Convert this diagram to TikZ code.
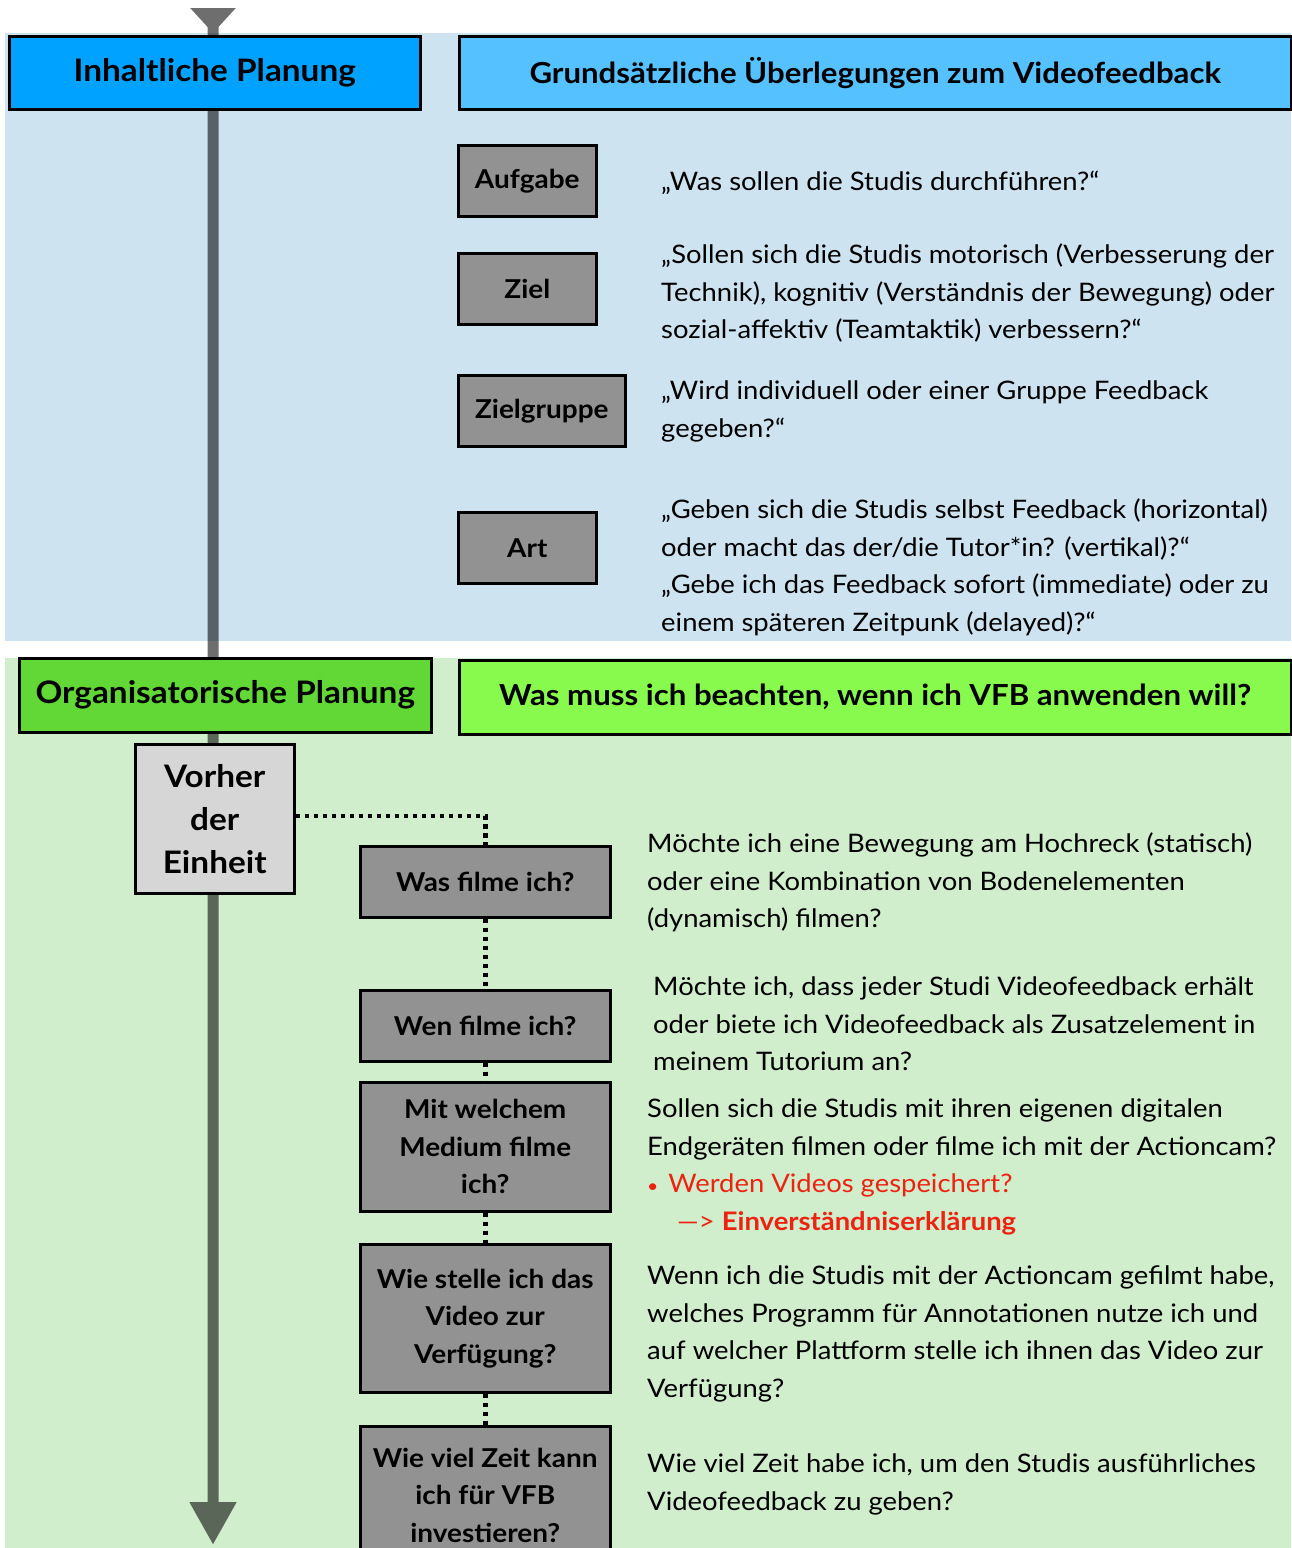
\documentclass[tikz,border=0pt]{standalone}
\usepackage{fontspec}
\setmainfont{Lato}[FakeStretch=1.075]
\usepackage{xcolor}
\definecolor{plan-blue}{RGB}{0,162,255}
\definecolor{plan-blue-light}{RGB}{86,193,255}
\definecolor{plan-blue-bg}{RGB}{205,227,240}
\definecolor{plan-green}{RGB}{97,216,54}
\definecolor{plan-green-light}{RGB}{136,250,78}
\definecolor{plan-green-bg}{RGB}{208,237,204}
\definecolor{box-gray}{RGB}{146,146,146}
\definecolor{box-gray-light}{RGB}{214,214,214}
\definecolor{vfb-red}{RGB}{238,34,17}
\usetikzlibrary{positioning,arrows.meta}
\tikzset{
  head/.style={
    draw=black,
    line width=2.5pt,
    anchor=north west,
    inner sep=0pt,
    font=\bfseries\fontsize{29}{35}\selectfont
  },
  phase/.style={
    head,
    font=\bfseries\fontsize{31}{37}\selectfont
  },
  topic/.style={
    draw=black,
    line width=2.5pt,
    fill=box-gray,
    anchor=north west,
    inner sep=0pt,
    minimum width=138pt,
    minimum height=71pt,
    font=\bfseries\fontsize{26}{37.5}\selectfont
  },
  question/.style={
    topic,
    minimum width=250pt,
    align=center
  },
  answer/.style={
    anchor=north west,
    inner sep=0pt,
    align=left,
    font=\fontsize{25.5}{37.5}\selectfont
  },
  dots/.style={
    line width=4.5pt,
    dash pattern=on 4.5pt off 4.5pt
  },
  timeline/.style={
    line width=11pt,
    draw=black,
    fill=black,
    {Triangle[reversed,width=44pt,length=25pt]}-{Triangle[width=44pt,length=43pt]}
  },
}

\begin{document}
\begin{tikzpicture}[x=1pt,y=-1pt]
  \useasboundingbox (0,0) rectangle (1291,1548);

  % backgrounds
  \fill[plan-blue-bg] (5,33) rectangle (1291,641);
  \fill[plan-green-bg] (5,658) rectangle (1291,1548);

  % time line
  \coordinate (start) at (213,8);
  \coordinate (end) at (213,1545);
  \begin{scope}[transparency group, opacity=0.57]
    \draw[timeline] (start) -- (end);
  \end{scope}

  % Inhaltliche Planung
  \node[phase, fill=plan-blue, minimum width=411pt, minimum height=73pt] (inhalt) at (8,35) {Inhaltliche Planung};
  \node[head, fill=plan-blue-light, minimum width=832pt, minimum height=73pt] (grund) at (458,35) {Grundsätzliche Überlegungen zum Videofeedback};

  \node[topic] (aufgabe) at (457,144) {Aufgabe};
  \node[topic] (ziel) at (457,252) {Ziel};
  \node[topic, minimum width=167pt] (zielgruppe) at (457,374) {Zielgruppe};
  \node[topic] (art) at (457,511) {Art};

  \node[answer] (aufgabe-text) at (661,171) {„Was sollen die Studis durchführen?“};
  \node[answer] (ziel-text) at (661,244) {„Sollen sich die Studis motorisch (Verbesserung der\\Technik), kognitiv (Verständnis der Bewegung) oder\\sozial-affektiv (Teamtaktik) verbessern?“};
  \node[answer] (zielgruppe-text) at (661,381) {„Wird individuell oder einer Gruppe Feedback\\gegeben?“};
  \node[answer] (art-text) at (661,499) {„Geben sich die Studis selbst Feedback (horizontal)\\oder macht das der/die Tutor*in? (vertikal)?“\\„Gebe ich das Feedback sofort (immediate) oder zu\\einem späteren Zeitpunk (delayed)?“};

  % Organisatorische Planung
  \node[phase, fill=plan-green, minimum width=412pt, minimum height=74pt] (orga) at (18,657) {Organisatorische Planung};
  \node[head, fill=plan-green-light, minimum width=832pt, minimum height=74pt] (beachten) at (458,659) {Was muss ich beachten, wenn ich VFB anwenden will?};

  \node[topic, fill=box-gray-light, minimum width=159pt, minimum height=149pt, align=center,
        font=\fontsize{31}{43}\selectfont\bfseries] (vorher) at (134,743) {Vorher\\der\\Einheit};

  \node[question] (was) at (359,845) {Was filme ich?};
  \node[question] (wen) at (359,989) {Wen filme ich?};
  \node[question, minimum height=129pt] (medium) at (359,1081) {Mit welchem\\Medium filme\\ich?};
  \node[question, minimum height=148pt] (stellen) at (359,1243) {Wie stelle ich das\\Video zur\\Verfügung?};
  \node[question, minimum height=138pt] (zeit) at (359,1425) {Wie viel Zeit kann\\ich für VFB\\investieren?};

  \draw[dots] ([yshift=3pt]vorher.east) -| (was.north);
  \draw[dots] (was) -- (wen);
  \draw[dots] (wen) -- (medium);
  \draw[dots] (medium) -- (stellen);
  \draw[dots] (stellen) -- (zeit);

  \node[answer] (was-text) at (647,833) {Möchte ich eine Bewegung am Hochreck (statisch)\\oder eine Kombination von Bodenelementen\\(dynamisch) filmen?};
  \node[answer] (wen-text) at (653,977) {Möchte ich, dass jeder Studi Videofeedback erhält\\oder biete ich Videofeedback als Zusatzelement in\\meinem Tutorium an?};
  \node[answer] (medium-text) at (647,1099) {Sollen sich die Studis mit ihren eigenen digitalen\\Endgeräten filmen oder filme ich mit der Actioncam?\\{\color{vfb-red}{\fontsize{18}{18}\selectfont•}\hspace{10pt}Werden Videos gespeichert?}\\\hspace*{30pt}{\color{vfb-red}—> \textbf{Einverständniserklärung}}};
  \node[answer] (stellen-text) at (647,1266) {Wenn ich die Studis mit der Actioncam gefilmt habe,\\welches Programm für Annotationen nutze ich und\\auf welcher Plattform stelle ich ihnen das Video zur\\Verfügung?};
  \node[answer] (zeit-text) at (647,1454) {Wie viel Zeit habe ich, um den Studis ausführliches\\Videofeedback zu geben?};
\end{tikzpicture}
\end{document}
